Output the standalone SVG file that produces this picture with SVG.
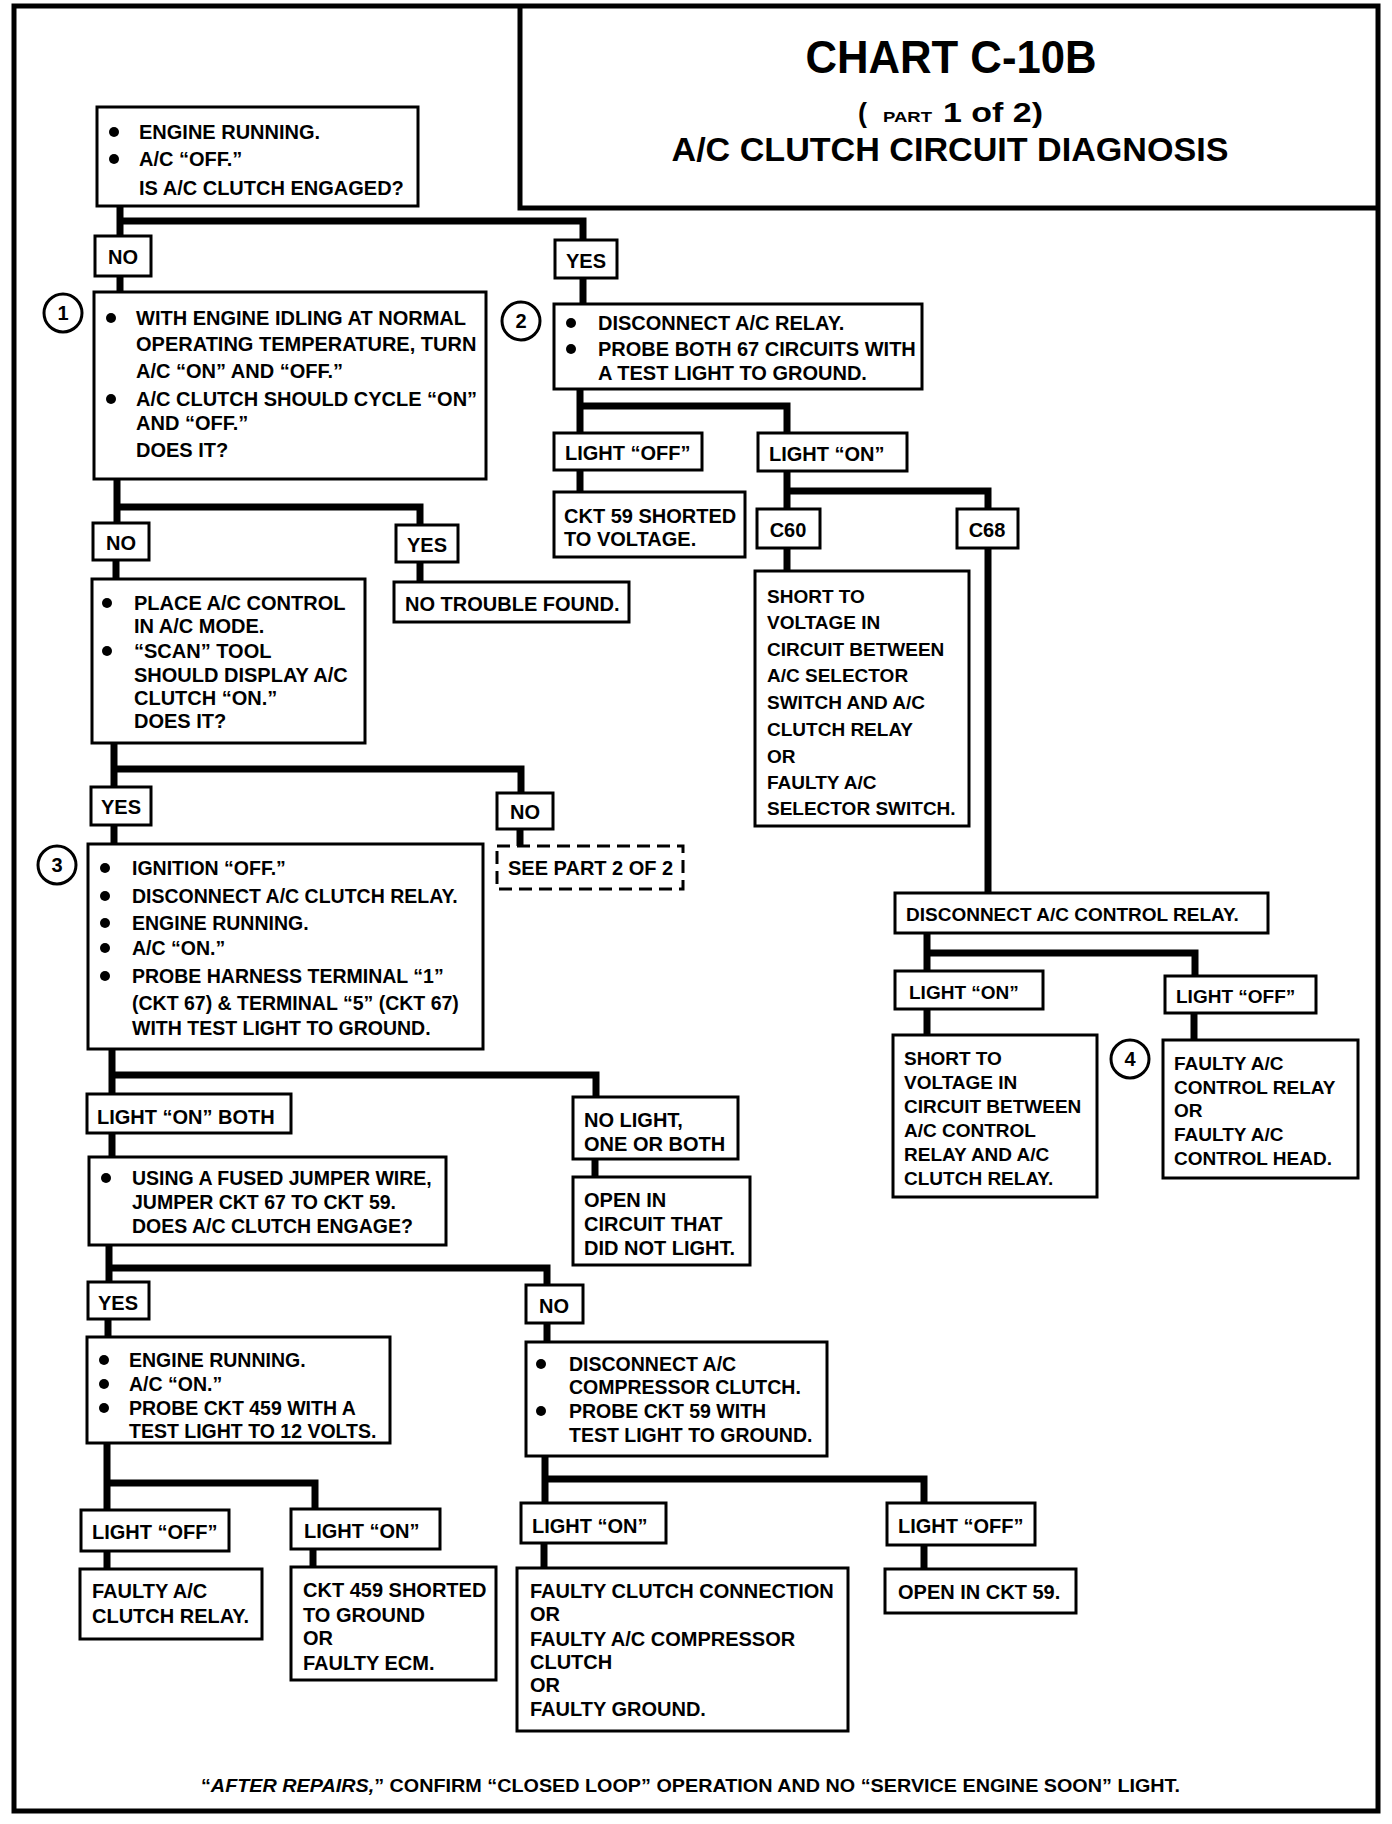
<svg xmlns="http://www.w3.org/2000/svg" width="1392" height="1824" viewBox="0 0 1392 1824">
<style>
.bx{fill:#fff;stroke:#000;stroke-width:3}
.dash{fill:#fff;stroke:#000;stroke-width:3;stroke-dasharray:13 7}
.t{font-family:"Liberation Sans",Arial,sans-serif;font-weight:bold;font-size:20px;fill:#000}
.s19{font-size:19px}
.s195{font-size:19.5px}
.m{text-anchor:middle}
.c{fill:none;stroke:#000;stroke-width:7}
.frame{fill:none;stroke:#000;stroke-width:5}
.dot{fill:#000}
.num{fill:#fff;stroke:#000;stroke-width:3}
</style>
<rect width="1392" height="1824" fill="#fff"/>
<g id="frame">
<rect class="frame" x="14" y="6" width="1364" height="1805"/>
<path class="frame" d="M520,6 V208 H1378"/>
</g>
<g id="title">
<text class="t m" x="951" y="73" style="font-size:46px" textLength="291" lengthAdjust="spacingAndGlyphs">CHART C-10B</text>
<text class="t" y="122" style="font-size:27px"><tspan x="858">(</tspan><tspan x="883" style="font-size:15px" textLength="49" lengthAdjust="spacingAndGlyphs">PART</tspan><tspan x="943" textLength="100" lengthAdjust="spacingAndGlyphs">1 of 2)</tspan></text>
<text class="t m" x="950" y="161" style="font-size:33px" textLength="557" lengthAdjust="spacingAndGlyphs">A/C CLUTCH CIRCUIT DIAGNOSIS</text>
</g>
<g id="connectors">
<path class="c" d="M120,206 V236 M120,221 H583 V240"/>
<path class="c" d="M120,276 V292"/>
<path class="c" d="M583,278 V304"/>
<path class="c" d="M117,479 V523 M117,507 H420 V525"/>
<path class="c" d="M116,560 V579"/>
<path class="c" d="M420,562 V582"/>
<path class="c" d="M114,743 V787 M114,769 H521 V793"/>
<path class="c" d="M114,825 V844"/>
<path class="c" d="M520,829 V846"/>
<path class="c" d="M112,1049 V1094 M112,1075 H596 V1097"/>
<path class="c" d="M112,1133 V1157"/>
<path class="c" d="M595,1159 V1177"/>
<path class="c" d="M109,1245 V1282 M109,1268 H547 V1285"/>
<path class="c" d="M108,1319 V1337"/>
<path class="c" d="M547,1323 V1342"/>
<path class="c" d="M107,1443 V1510 M107,1483 H315 V1509"/>
<path class="c" d="M107,1551 V1569"/>
<path class="c" d="M313,1549 V1567"/>
<path class="c" d="M545,1456 V1503 M545,1479 H924 V1503"/>
<path class="c" d="M544,1543 V1568"/>
<path class="c" d="M924,1545 V1569"/>
<path class="c" d="M580,389 V433 M580,406 H787 V434"/>
<path class="c" d="M580,470 V492"/>
<path class="c" d="M787,471 V509 M787,491 H988 V509"/>
<path class="c" d="M787,548 V571"/>
<path class="c" d="M988,548 V893"/>
<path class="c" d="M927,933 V971 M927,953 H1195 V976"/>
<path class="c" d="M927,1009 V1035"/>
<path class="c" d="M1194,1013 V1040"/>
</g>
<g id="n-start">
<rect class="bx" x="97" y="107" width="321" height="99"/>
<circle class="dot" cx="114" cy="132" r="5"/><circle class="dot" cx="114" cy="159" r="5"/>
<text class="t"><tspan x="139" y="139">ENGINE RUNNING.</tspan><tspan x="139" y="166">A/C “OFF.”</tspan><tspan x="139" y="195">IS A/C CLUTCH ENGAGED?</tspan></text>
</g>
<g id="n-no1"><rect class="bx" x="95" y="236" width="56" height="40"/><text class="t m" x="123" y="264">NO</text></g>
<g id="n-yes1"><rect class="bx" x="555" y="240" width="62" height="38"/><text class="t m" x="586" y="268">YES</text></g>
<g id="n-step1">
<circle class="num" cx="63" cy="313" r="19"/><text class="t m" x="63" y="320">1</text>
<rect class="bx" x="94" y="292" width="392" height="187"/>
<circle class="dot" cx="111" cy="318" r="5"/><circle class="dot" cx="111" cy="399" r="5"/>
<text class="t"><tspan x="136" y="325">WITH ENGINE IDLING AT NORMAL</tspan><tspan x="136" y="351">OPERATING TEMPERATURE, TURN</tspan><tspan x="136" y="378">A/C “ON” AND “OFF.”</tspan><tspan x="136" y="406">A/C CLUTCH SHOULD CYCLE “ON”</tspan><tspan x="136" y="430">AND “OFF.”</tspan><tspan x="136" y="457">DOES IT?</tspan></text>
</g>
<g id="n-step2">
<circle class="num" cx="521" cy="321" r="19"/><text class="t m" x="521" y="328">2</text>
<rect class="bx" x="554" y="304" width="368" height="85"/>
<circle class="dot" cx="571" cy="323" r="5"/><circle class="dot" cx="571" cy="349" r="5"/>
<text class="t"><tspan x="598" y="330">DISCONNECT A/C RELAY.</tspan><tspan x="598" y="356">PROBE BOTH 67 CIRCUITS WITH</tspan><tspan x="598" y="380">A TEST LIGHT TO GROUND.</tspan></text>
</g>
<g id="n-off1"><rect class="bx" x="554" y="433" width="148" height="37"/><text class="t" x="565" y="460">LIGHT “OFF”</text></g>
<g id="n-on1"><rect class="bx" x="758" y="433" width="149" height="38"/><text class="t" x="769" y="461">LIGHT “ON”</text></g>
<g id="n-ckt59v"><rect class="bx" x="554" y="492" width="191" height="65"/><text class="t"><tspan x="564" y="523">CKT 59 SHORTED</tspan><tspan x="564" y="546">TO  VOLTAGE.</tspan></text></g>
<g id="n-c60"><rect class="bx" x="757" y="509" width="63" height="39"/><text class="t m" x="788" y="537">C60</text></g>
<g id="n-c68"><rect class="bx" x="957" y="509" width="61" height="39"/><text class="t m" x="987" y="537">C68</text></g>
<g id="n-short1"><rect class="bx" x="755" y="571" width="214" height="255"/>
<text class="t s19"><tspan x="767" y="603">SHORT TO</tspan><tspan x="767" y="629">VOLTAGE IN</tspan><tspan x="767" y="656">CIRCUIT BETWEEN</tspan><tspan x="767" y="682">A/C SELECTOR</tspan><tspan x="767" y="709">SWITCH AND A/C</tspan><tspan x="767" y="736">CLUTCH RELAY</tspan><tspan x="767" y="763">OR</tspan><tspan x="767" y="789">FAULTY A/C</tspan><tspan x="767" y="815">SELECTOR SWITCH.</tspan></text></g>
<g id="n-disc"><rect class="bx" x="895" y="893" width="373" height="40"/><text class="t s19" x="906" y="921">DISCONNECT A/C CONTROL RELAY.</text></g>
<g id="n-on2"><rect class="bx" x="895" y="971" width="148" height="38"/><text class="t s19" x="909" y="999">LIGHT “ON”</text></g>
<g id="n-off2"><rect class="bx" x="1165" y="976" width="151" height="37"/><text class="t s19" x="1176" y="1003">LIGHT “OFF”</text></g>
<g id="n-short2"><rect class="bx" x="893" y="1035" width="204" height="162"/>
<text class="t s19"><tspan x="904" y="1065">SHORT TO</tspan><tspan x="904" y="1089">VOLTAGE IN</tspan><tspan x="904" y="1113">CIRCUIT BETWEEN</tspan><tspan x="904" y="1137">A/C CONTROL</tspan><tspan x="904" y="1161">RELAY AND A/C</tspan><tspan x="904" y="1185">CLUTCH RELAY.</tspan></text></g>
<g id="n-step4">
<circle class="num" cx="1130" cy="1059" r="19"/><text class="t m" x="1130" y="1066">4</text>
<rect class="bx" x="1163" y="1040" width="195" height="138"/>
<text class="t s19"><tspan x="1174" y="1070">FAULTY A/C</tspan><tspan x="1174" y="1094">CONTROL RELAY</tspan><tspan x="1174" y="1117">OR</tspan><tspan x="1174" y="1141">FAULTY A/C</tspan><tspan x="1174" y="1165">CONTROL HEAD.</tspan></text></g>
<g id="n-no2"><rect class="bx" x="93" y="523" width="56" height="37"/><text class="t m" x="121" y="550">NO</text></g>
<g id="n-yes2"><rect class="bx" x="396" y="525" width="62" height="37"/><text class="t m" x="427" y="552">YES</text></g>
<g id="n-ntf"><rect class="bx" x="394" y="582" width="235" height="40"/><text class="t" x="405" y="611">NO TROUBLE FOUND.</text></g>
<g id="n-scan">
<rect class="bx" x="92" y="579" width="273" height="164"/>
<circle class="dot" cx="107" cy="603" r="5"/><circle class="dot" cx="107" cy="651" r="5"/>
<text class="t"><tspan x="134" y="610">PLACE A/C CONTROL</tspan><tspan x="134" y="633">IN A/C MODE.</tspan><tspan x="134" y="658">“SCAN” TOOL</tspan><tspan x="134" y="682">SHOULD DISPLAY A/C</tspan><tspan x="134" y="705">CLUTCH “ON.”</tspan><tspan x="134" y="728">DOES IT?</tspan></text>
</g>
<g id="n-yes3"><rect class="bx" x="91" y="787" width="60" height="38"/><text class="t m" x="121" y="814">YES</text></g>
<g id="n-no3"><rect class="bx" x="497" y="793" width="56" height="36"/><text class="t m" x="525" y="819">NO</text></g>
<g id="n-part2"><rect class="dash" x="497" y="846" width="186" height="43"/><text class="t" x="508" y="875">SEE PART 2 OF 2</text></g>
<g id="n-step3">
<circle class="num" cx="57" cy="865" r="19"/><text class="t m" x="57" y="872">3</text>
<rect class="bx" x="88" y="844" width="395" height="205"/>
<circle class="dot" cx="105" cy="868" r="5"/><circle class="dot" cx="105" cy="896" r="5"/><circle class="dot" cx="105" cy="923" r="5"/><circle class="dot" cx="105" cy="948" r="5"/><circle class="dot" cx="105" cy="976" r="5"/>
<text class="t s195"><tspan x="132" y="875">IGNITION “OFF.”</tspan><tspan x="132" y="903">DISCONNECT A/C CLUTCH RELAY.</tspan><tspan x="132" y="930">ENGINE RUNNING.</tspan><tspan x="132" y="955">A/C “ON.”</tspan><tspan x="132" y="983">PROBE HARNESS TERMINAL “1”</tspan><tspan x="132" y="1010">(CKT 67) &amp; TERMINAL “5” (CKT 67)</tspan><tspan x="132" y="1035">WITH TEST LIGHT TO GROUND.</tspan></text>
</g>
<g id="n-onboth"><rect class="bx" x="87" y="1094" width="204" height="39"/><text class="t" x="97" y="1124">LIGHT “ON” BOTH</text></g>
<g id="n-nolight"><rect class="bx" x="573" y="1097" width="165" height="62"/><text class="t"><tspan x="584" y="1127">NO LIGHT,</tspan><tspan x="584" y="1151">ONE OR BOTH</tspan></text></g>
<g id="n-openin"><rect class="bx" x="573" y="1177" width="177" height="88"/><text class="t"><tspan x="584" y="1207">OPEN IN</tspan><tspan x="584" y="1231">CIRCUIT THAT</tspan><tspan x="584" y="1255">DID NOT LIGHT.</tspan></text></g>
<g id="n-jumper">
<rect class="bx" x="89" y="1157" width="357" height="88"/>
<circle class="dot" cx="106" cy="1178" r="5"/>
<text class="t s195"><tspan x="132" y="1185">USING A FUSED JUMPER WIRE,</tspan><tspan x="132" y="1209">JUMPER CKT 67 TO CKT 59.</tspan><tspan x="132" y="1233">DOES A/C CLUTCH ENGAGE?</tspan></text>
</g>
<g id="n-yes4"><rect class="bx" x="88" y="1282" width="61" height="37"/><text class="t m" x="118" y="1310">YES</text></g>
<g id="n-no4"><rect class="bx" x="526" y="1285" width="57" height="38"/><text class="t m" x="554" y="1313">NO</text></g>
<g id="n-ckt459">
<rect class="bx" x="87" y="1337" width="303" height="106"/>
<circle class="dot" cx="104" cy="1360" r="5"/><circle class="dot" cx="104" cy="1384" r="5"/><circle class="dot" cx="104" cy="1408" r="5"/>
<text class="t s195"><tspan x="129" y="1367">ENGINE RUNNING.</tspan><tspan x="129" y="1391">A/C “ON.”</tspan><tspan x="129" y="1415">PROBE CKT 459 WITH A</tspan><tspan x="129" y="1438">TEST LIGHT TO 12 VOLTS.</tspan></text>
</g>
<g id="n-compr">
<rect class="bx" x="526" y="1342" width="301" height="114"/>
<circle class="dot" cx="541" cy="1364" r="5"/><circle class="dot" cx="541" cy="1411" r="5"/>
<text class="t s195"><tspan x="569" y="1371">DISCONNECT A/C</tspan><tspan x="569" y="1394">COMPRESSOR CLUTCH.</tspan><tspan x="569" y="1418">PROBE CKT 59 WITH</tspan><tspan x="569" y="1442">TEST LIGHT TO GROUND.</tspan></text>
</g>
<g id="n-off3"><rect class="bx" x="81" y="1510" width="148" height="41"/><text class="t" x="92" y="1539">LIGHT “OFF”</text></g>
<g id="n-on3"><rect class="bx" x="291" y="1509" width="149" height="40"/><text class="t" x="304" y="1538">LIGHT “ON”</text></g>
<g id="n-faultyrelay"><rect class="bx" x="80" y="1569" width="182" height="70"/><text class="t"><tspan x="92" y="1598">FAULTY A/C</tspan><tspan x="92" y="1623">CLUTCH RELAY.</tspan></text></g>
<g id="n-ckt459g"><rect class="bx" x="291" y="1567" width="205" height="113"/><text class="t"><tspan x="303" y="1597">CKT 459 SHORTED</tspan><tspan x="303" y="1622">TO GROUND</tspan><tspan x="303" y="1645">OR</tspan><tspan x="303" y="1670">FAULTY ECM.</tspan></text></g>
<g id="n-on4"><rect class="bx" x="521" y="1503" width="145" height="40"/><text class="t" x="532" y="1533">LIGHT “ON”</text></g>
<g id="n-off4"><rect class="bx" x="887" y="1503" width="148" height="42"/><text class="t" x="898" y="1533">LIGHT “OFF”</text></g>
<g id="n-faultyclutch"><rect class="bx" x="517" y="1568" width="331" height="163"/><text class="t"><tspan x="530" y="1598">FAULTY CLUTCH CONNECTION</tspan><tspan x="530" y="1621">OR</tspan><tspan x="530" y="1646">FAULTY A/C COMPRESSOR</tspan><tspan x="530" y="1669">CLUTCH</tspan><tspan x="530" y="1692">OR</tspan><tspan x="530" y="1716">FAULTY GROUND.</tspan></text></g>
<g id="n-open59"><rect class="bx" x="885" y="1569" width="191" height="44"/><text class="t" x="898" y="1599">OPEN IN CKT 59.</text></g>
<g id="footer">
<text class="t s19" x="201" y="1792" textLength="979" lengthAdjust="spacingAndGlyphs">“<tspan font-style="italic">AFTER REPAIRS,</tspan>” CONFIRM “CLOSED LOOP” OPERATION AND NO “SERVICE ENGINE SOON” LIGHT.</text>
</g>
</svg>
